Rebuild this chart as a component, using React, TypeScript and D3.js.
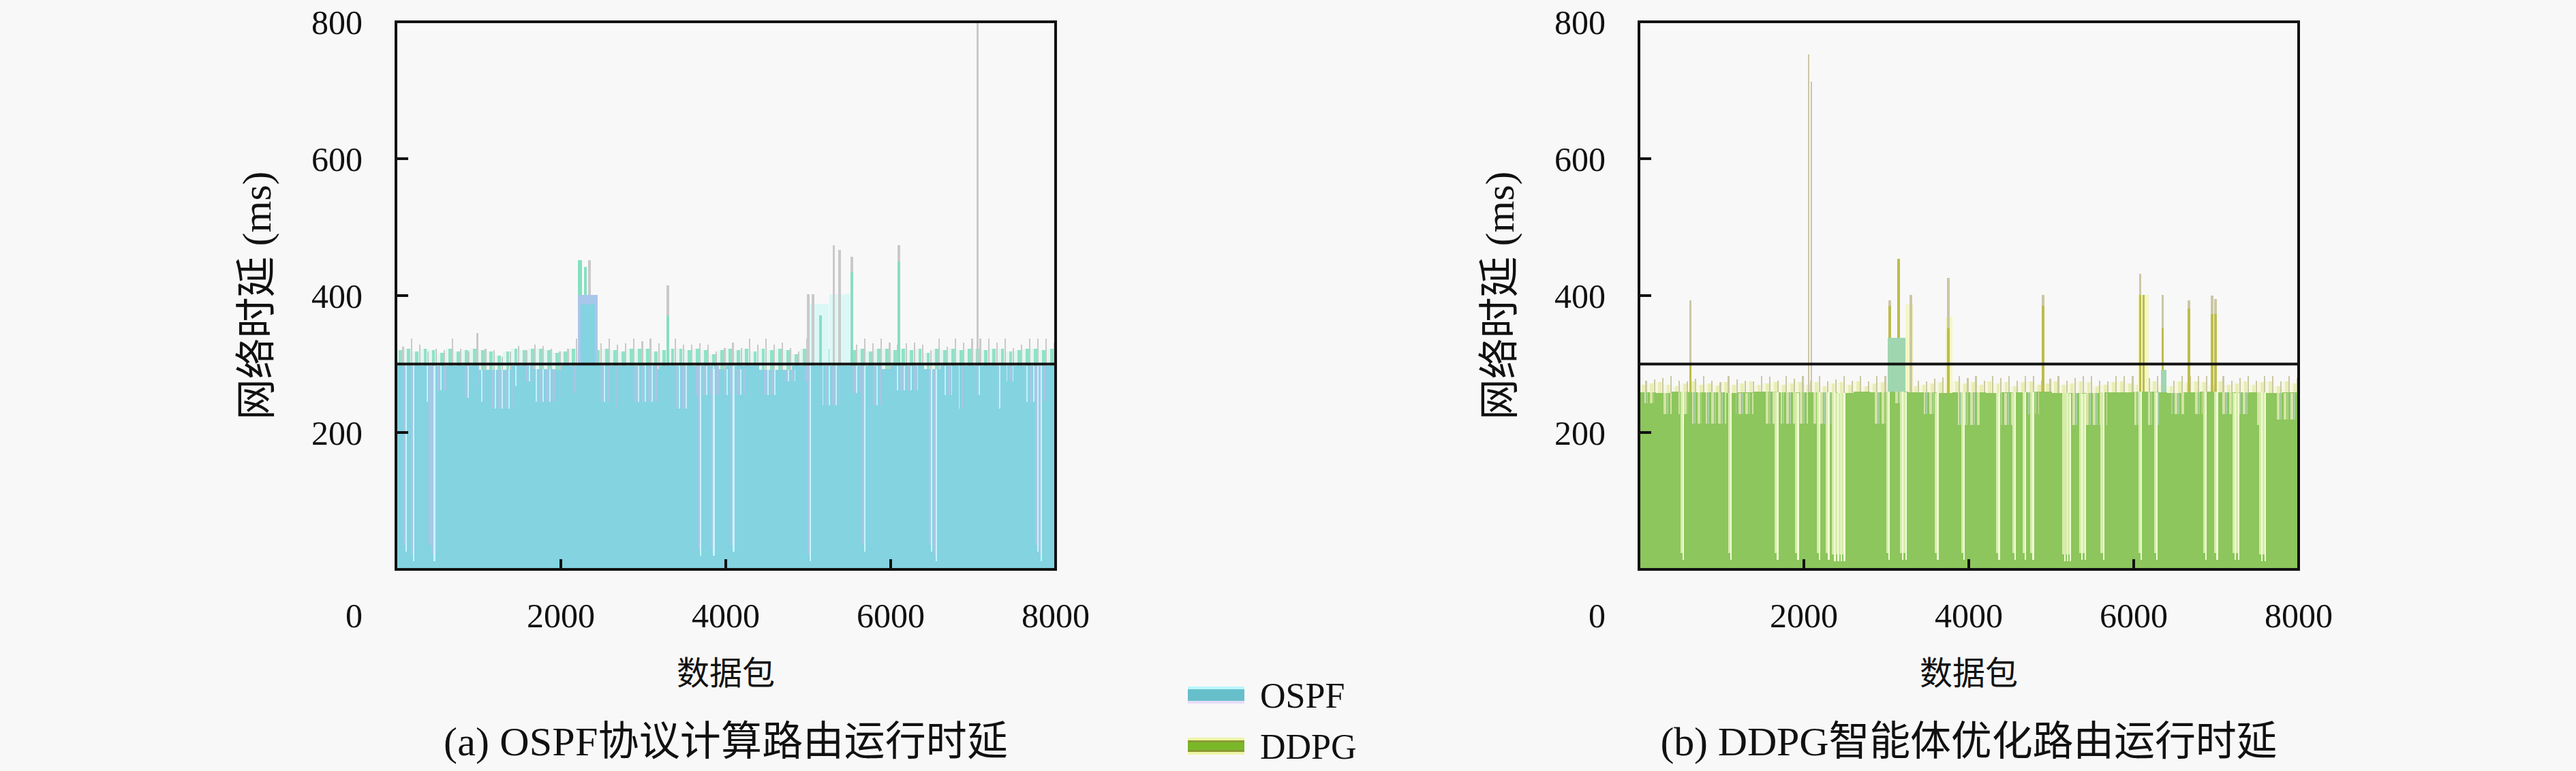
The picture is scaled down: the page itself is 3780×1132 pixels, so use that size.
import React, { useEffect } from 'react';
import * as d3 from 'd3';

const W = 3780;
const H = 1132;
const PLOT_W = 968;
const TOP = 32;
const BOTTOM = 836;

const xTicks = [2000, 4000, 6000, 8000];
const yTicks = [200, 400, 600, 800];
const threshold = 300;

// ---- OSPF (left panel) ----
// solid level per 200 packets
const ospfBase = [
  298, 298, 298, 298, 298, 292, 292, 298, 293, 292,
  298, 298, 298, 298, 298, 293, 298, 298, 298, 293,
  298, 298, 292, 292, 298, 298, 298, 298, 298, 293,
  298, 298, 293, 298, 298, 298, 298, 298, 298, 298,
];
// mint fringe per 100 packets
const ospfMint = [
  320, 322, 318, 322, 320, 316, 322, 318, 320, 322,
  320, 318, 312, 318, 322, 320, 322, 322, 320, 316,
  318, 322, 322, 322, 320, 322, 320, 318, 322, 322,
  322, 318, 320, 322, 322, 320, 322, 320, 314, 320,
  322, 320, 322, 318, 322, 320, 322, 320, 314, 322,
  322, 320, 322, 320, 322, 320, 322, 318, 322, 322,
  320, 322, 320, 322, 316, 322, 320, 322, 320, 322,
  322, 320, 322, 322, 318, 320, 322, 322, 320, 322,
];
// tallest thin tip per 100 packets
const ospfTips = [
  325, 337, 328, 318, 322, 320, 337, 322, 318, 345,
  322, 320, 310, 318, 326, 320, 328, 326, 322, 318,
  322, 337, 330, 330, 330, 337, 328, 330, 337, 333,
  337, 330, 323, 337, 328, 328, 330, 328, 318, 323,
  331, 323, 337, 328, 337, 328, 331, 323, 318, 337,
  330, 330, 330, 330, 330, 328, 337, 330, 337, 331,
  328, 330, 331, 328, 320, 337, 325, 337, 331, 337,
  337, 337, 331, 337, 323, 328, 337, 337, 337, 331,
];
// shallow notches [start, end, value]
const ospfNotches = [
  [364, 470, 245], [470, 612, 262], [832, 888, 251], [970, 997, 268],
  [1025, 1080, 245], [1149, 1410, 235], [1438, 1465, 268], [1548, 1658, 275],
  [1686, 1934, 245], [1962, 1989, 251], [2154, 2182, 258], [2485, 2595, 245],
  [2664, 2690, 235], [2870, 3173, 245], [3394, 3531, 235], [3614, 3917, 255],
  [3986, 4234, 255], [4454, 4620, 255], [4730, 4840, 275], [4950, 5005, 275],
  [5170, 5390, 240], [5528, 5639, 258], [5777, 5887, 240], [6052, 6328, 262],
  [6645, 6741, 255], [6824, 6879, 235], [7045, 7100, 255], [7293, 7348, 235],
  [7403, 7486, 275], [7624, 7872, 245],
];
// deep gaps [packet, value]
const ospfDeep = [
  [110, 36], [200, 22], [420, 36], [450, 22], [3680, 30], [3840, 30],
  [4080, 36], [5010, 22], [5670, 36], [6480, 36], [6540, 22], [7770, 36], [7810, 22],
];
// raised blocks [start, end, top, outerTop]
const ospfBlocks = [[2210, 2450, 387, 401]];
// pale blocks [start, end, value]
const ospfPale = [[4990, 5250, 388], [5255, 5500, 402]];
// spikes [packet, tip, coloured part]
const ospfSpikes = [
  [2225, 452, 452], [2245, 452, 452], [2300, 442, 442], [2345, 452, 0],
  [3300, 415, 371], [5000, 402, 0], [5060, 402, 0], [5150, 371, 371],
  [5310, 474, 0], [5380, 467, 0], [5530, 457, 434], [6100, 474, 450], [7055, 800, 0],
];

// ---- DDPG (right panel) ----
const ddpgBase = [
  259, 258, 260, 259, 259, 258, 259, 260, 259, 258,
  259, 259, 258, 260, 259, 260, 259, 259, 258, 259,
  259, 258, 259, 259, 260, 258, 257, 258, 259, 259,
  260, 259, 258, 259, 260, 259, 258, 259, 258, 259,
];
const ddpgMint = [
  270, 272, 274, 270, 268, 272, 275, 270, 272, 269,
  274, 270, 272, 275, 270, 272, 274, 270, 272, 274,
  270, 274, 268, 272, 274, 270, 275, 268, 272, 274,
  272, 270, 272, 268, 270, 272, 274, 272, 275, 272,
  274, 270, 275, 272, 274, 268, 274, 275, 270, 272,
  275, 270, 272, 275, 274, 268, 270, 274, 275, 272,
  270, 272, 275, 270, 268, 275, 274, 275, 274, 270,
  275, 270, 272, 275, 270, 274, 275, 268, 275, 272,
];
const ddpgTips = [
  276, 278, 280, 283, 276, 275, 279, 283, 276, 274,
  283, 278, 276, 275, 283, 282, 276, 283, 279, 283,
  276, 283, 275, 278, 283, 276, 283, 275, 283, 283,
  280, 276, 280, 276, 275, 279, 281, 278, 283, 280,
  283, 276, 283, 280, 283, 276, 283, 283, 276, 279,
  283, 276, 280, 283, 283, 276, 275, 283, 283, 283,
  276, 280, 283, 276, 276, 283, 283, 283, 283, 276,
  283, 276, 280, 283, 276, 283, 283, 275, 283, 280,
];
const ddpgNotches = [
  [69, 179, 243], [289, 399, 227], [482, 592, 227], [647, 757, 213],
  [812, 1061, 213], [1171, 1392, 227], [1529, 1667, 213], [1722, 2053, 213],
  [2107, 2328, 213], [2851, 2989, 213], [3099, 3264, 243], [3457, 3623, 227],
  [3871, 4008, 211], [3967, 4132, 211], [4325, 4573, 211], [4710, 4848, 227],
  [5123, 5674, 211], [6005, 6060, 211], [6170, 6308, 211], [6446, 6611, 227],
  [6721, 6832, 227], [7052, 7383, 227], [7493, 7603, 211], [7714, 8000, 219],
];
const ddpgDeep = [
  [523, 24], [1102, 24], [1667, 24], [1915, 24], [2176, 24], [2286, 24],
  [2360, 22], [2400, 22], [2440, 22], [2475, 22], [3016, 24], [3182, 24],
  [3223, 24], [3609, 24], [3925, 24], [4352, 24], [4545, 24], [4669, 24],
  [4766, 24], [5150, 22], [5180, 22], [5215, 22], [5358, 24], [5399, 24],
  [5619, 24], [6074, 24], [6267, 24], [6859, 24], [6997, 24], [7217, 24],
  [7258, 24], [7540, 22], [7580, 22],
];
const ddpgBlocks = [[3020, 3230, 338, 338], [6330, 6400, 292, 292]];
const ddpgPale = [[3230, 3330, 387], [3720, 3800, 369], [6050, 6180, 401]];
const ddpgSpikes = [
  [625, 393, 300], [2060, 752, 0], [2090, 712, 0], [3040, 393, 385],
  [3150, 454, 454], [3300, 401, 0], [3752, 426, 352], [4900, 401, 385],
  [6080, 432, 401], [6120, 401, 401], [6350, 401, 352], [6670, 393, 381],
  [6950, 400, 373], [6990, 395, 373],
];

const FONT = "'Liberation Serif', 'Noto Sans CJK SC', serif";

const ospfColors = {
  body: '#83d3e1', pale: '#d5f4ec', mint: '#8fe2c6', tip: '#c9c9c9',
  notch: '#a8c5e4', notchLine: '#c3f2fa', deep: '#a9c6e6', deepLine: '#c6f6fc',
  block: '#83d3e1', blockOuter: '#a9c7ea', paleBlock: '#dbf8f6', spike: '#86dfc1',
};
const ddpgColors = {
  body: '#8cc65c', pale: '#f2f6cc', mint: '#e8eeb4', tip: '#cbc7a4',
  notch: '#d4e3a6', notchLine: '#a9cfa8', deep: '#d6ecaa', deepLine: '#f1fbd6',
  block: '#9fd6b0', blockOuter: '#9fd6b0', paleBlock: '#f3f7c6', spike: '#bdbc4e',
};

const Panel = ({ id, left, base, mint, tips, notches, deep, blocks, pale, spikes, c, caption, captionLen }) => {
  const x = d3.scaleLinear().domain([0, 8000]).range([left, left + PLOT_W]);
  const y = d3.scaleLinear().domain([0, 800]).range([BOTTOM, TOP]);
  const bw = (n) => x(n) - x(0);
  const baseAt = (p) => base[Math.min(base.length - 1, Math.max(0, Math.floor(p / 200)))];
  const cx = (left + left + PLOT_W) / 2;

  return (
    <g>
      <defs>
        <pattern id={`notch-${id}`} width="10" height="10" patternUnits="userSpaceOnUse">
          <rect width="10" height="10" fill={c.body} />
          <rect x="1" width="4" height="10" fill={c.notch} />
          <rect x="6" width="2" height="10" fill={c.notchLine} />
        </pattern>
        <clipPath id={`clip-${id}`}>
          <rect x={left} y={TOP} width={PLOT_W} height={BOTTOM - TOP} />
        </clipPath>
      </defs>
      <g clipPath={`url(#clip-${id})`} shapeRendering="crispEdges">
        {mint.map((v, i) => (
          <rect key={`p${i}`} x={x(i * 100)} width={bw(100)} y={y(v)} height={y(0) - y(v)} fill={c.pale} opacity={0.55} />
        ))}
        {mint.map((v, i) => (
          <rect key={`m${i}`} x={x(i * 100 + 35)} width={bw(40)} y={y(v)} height={y(0) - y(v)} fill={c.mint} />
        ))}
        {tips.map((v, i) => (
          <rect key={`t${i}`} x={x(i * 100 + 78)} width={bw(18)} y={y(v)} height={y(0) - y(v)} fill={c.tip} />
        ))}
        {pale.map(([s, e, v], i) => (
          <rect key={`pb${i}`} x={x(s)} width={x(e) - x(s)} y={y(v)} height={y(0) - y(v)} fill={c.paleBlock} />
        ))}
        {spikes.map(([p, top, col], i) => {
          const w = top > 600 ? bw(20) : bw(30);
          return (
            <g key={`s${i}`}>
              <rect x={x(p) - w / 2} width={w} y={y(top)} height={y(0) - y(top)} fill={c.tip} />
              {col > 0 && (
                <rect x={x(p) - w / 2} width={w} y={y(col)} height={y(0) - y(col)} fill={c.spike} />
              )}
            </g>
          );
        })}
        {blocks.map(([s, e, top, outer], i) => (
          <g key={`bl${i}`}>
            <rect x={x(s)} width={x(e) - x(s)} y={y(outer)} height={y(0) - y(outer)} fill={c.blockOuter} />
            <rect x={x(s) + 4} width={Math.max(0, x(e) - x(s) - 8)} y={y(top)} height={y(0) - y(top)} fill={c.block} />
          </g>
        ))}
        {base.map((v, i) => (
          <rect key={`b${i}`} x={x(i * 200)} width={bw(200) + 0.6} y={y(v)} height={y(0) - y(v)} fill={c.body} />
        ))}
        {notches.map(([s, e, v], i) => {
          const b = baseAt(s);
          return (
            <rect key={`n${i}`} x={x(s)} width={x(e) - x(s)} y={y(b)} height={y(v) - y(b)} fill={`url(#notch-${id})`} />
          );
        })}
        {deep.map(([p, v], i) => {
          const b = baseAt(p);
          return (
            <g key={`d${i}`}>
              <rect x={x(p) - bw(20)} width={bw(40)} y={y(b)} height={y(v) - y(b)} fill={c.deep} />
              <rect x={x(p) + bw(6)} width={2.4} y={y(b)} height={y(v) - y(b) + 10} fill={c.deepLine} />
            </g>
          );
        })}
      </g>
      <line x1={left} x2={left + PLOT_W} y1={y(threshold)} y2={y(threshold)} stroke="#111" strokeWidth={4} />
      <rect x={left} y={TOP} width={PLOT_W} height={BOTTOM - TOP} fill="none" stroke="#111" strokeWidth={4} />
      {yTicks.filter((v) => v < 800).map((v) => (
        <line key={`yt${v}`} x1={left} x2={left + 18} y1={y(v)} y2={y(v)} stroke="#111" strokeWidth={4} />
      ))}
      {xTicks.filter((v) => v < 8000).map((v) => (
        <line key={`xt${v}`} x1={x(v)} x2={x(v)} y1={BOTTOM} y2={BOTTOM - 15} stroke="#111" strokeWidth={4} />
      ))}
      <g fontFamily={FONT} fill="#111" fontSize={50}>
        {yTicks.map((v) => (
          <text key={`yl${v}`} x={left - 49} y={y(v)} dy="0.35em" textAnchor="end">{v}</text>
        ))}
        <text x={left - 49} y={903} dy="0.35em" textAnchor="end">0</text>
        {xTicks.map((v) => (
          <text key={`xl${v}`} x={x(v)} y={903} dy="0.35em" textAnchor="middle">{v}</text>
        ))}
        <text x={cx} y={988} dy="0.35em" textAnchor="middle" fontSize={48}>数据包</text>
        <text transform={`translate(${left - 205},434) rotate(-90)`} dy="0.35em" textAnchor="middle" fontSize={60}>
          网络时延 (ms)
        </text>
        <text x={cx} y={1088} dy="0.35em" textAnchor="middle" fontSize={60} textLength={captionLen} lengthAdjust="spacing">
          {caption}
        </text>
      </g>
    </g>
  );
};

const App = () => {
  useEffect(() => {
    document.body.style.margin = '0';
  }, []);

  return (
    <svg width={W} height={H} viewBox={`0 0 ${W} ${H}`} style={{ display: 'block' }}>
      <rect width={W} height={H} fill="#f8f8f8" />
      <Panel
        id="ospf" left={581} base={ospfBase} mint={ospfMint} tips={ospfTips}
        notches={ospfNotches} deep={ospfDeep} blocks={ospfBlocks} pale={ospfPale}
        spikes={ospfSpikes} c={ospfColors} caption="(a) OSPF协议计算路由运行时延" captionLen={828}
      />
      <Panel
        id="ddpg" left={2405} base={ddpgBase} mint={ddpgMint} tips={ddpgTips}
        notches={ddpgNotches} deep={ddpgDeep} blocks={ddpgBlocks} pale={ddpgPale}
        spikes={ddpgSpikes} c={ddpgColors} caption="(b) DDPG智能体优化路由运行时延" captionLen={905}
      />
      {/* legend */}
      <g shapeRendering="crispEdges">
        <rect x={1743} y={1008} width={83} height={25} fill="#e6ddf8" />
        <rect x={1743} y={1008} width={83} height={21} fill="#68bfcc" />
        <rect x={1743} y={1008} width={83} height={4} fill="#b9f7fb" />
        <rect x={1743} y={1083} width={83} height={25} fill="#eef6a8" />
        <rect x={1743} y={1087} width={83} height={17} fill="#8b9a33" />
        <rect x={1743} y={1090} width={83} height={11} fill="#79b829" />
      </g>
      <g fontFamily={FONT} fill="#111" fontSize={52}>
        <text x={1849} y={1021} dy="0.35em">OSPF</text>
        <text x={1849} y={1096} dy="0.35em">DDPG</text>
      </g>
    </svg>
  );
};

export default App;
